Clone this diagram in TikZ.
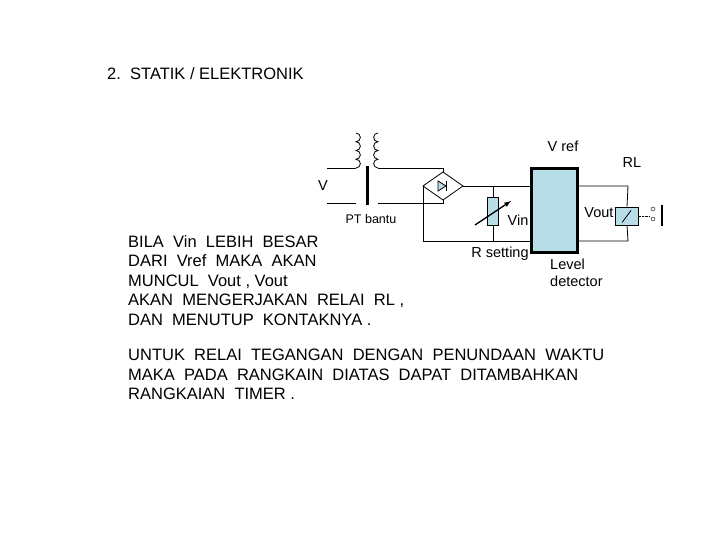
\documentclass[tikz,border=0pt]{standalone}
\usepackage{fontspec}
\setmainfont{Liberation Sans}
\usetikzlibrary{positioning}
\definecolor{boxblue}{RGB}{183,221,230}
\tikzset{
  wire/.style={line width=0.8pt},
  txt/.style={inner sep=0pt, anchor=west, font=\fontsize{16.5}{19.5}\selectfont},
  lbl/.style={inner sep=0pt, font=\fontsize{14.5}{16.5}\selectfont},
  comp/.style={draw, line width=0.8pt, fill=boxblue, inner sep=0pt}
}
\begin{document}
\begin{tikzpicture}[x=1pt,y=-1pt]
\useasboundingbox (0,0) rectangle (720,540);
% titel
\node[txt] (title) at (107,74) {2.\ \ STATIK / ELEKTRONIK};
% level detector
\node[comp, line width=3pt, minimum width=46, minimum height=83] (det) at (554,210.5) {};
\node[lbl] (vref) at (563,146) {V ref};
\node[lbl, align=left, anchor=north west] (level) at (550,259) {Level\\detector};
% transformer
\draw[wire] (327,168) -- (356,168);
\draw[wire] (327,203) -- (356,203);
\draw[wire] (356,168) \foreach \i in {0,1,2,3} {arc (90:-90:4.375)};
\draw[line width=3pt] (367,166) -- (367,205);
\draw[wire] (378,168) \foreach \i in {0,1,2,3} {arc (90:270:4.375)};
\node[lbl] (v) at (323,186) {V};
\node[lbl, font=\fontsize{12.5}{14}\selectfont] (pt) at (371,219) {PT bantu};
% bridge
\coordinate (bt) at (443,172);
\coordinate (bb) at (443,200);
\coordinate (bl) at (423,186);
\coordinate (br) at (463,186);
\draw[wire] (bt) -- (br) -- (bb) -- (bl) -- cycle;
\draw[wire] (378,168) -- (443,168) -- (bt);
\draw[wire] (378,203) -- (443,203) -- (bb);
\draw[wire, fill=boxblue] (438,181) -- (446,186) -- (438,191) -- cycle;
\draw[wire] (446,181) -- (446,191);
% wires to detector
\draw[wire] (br) -- (det.west |- br);
\draw[wire] (bl) -- (423,241) -- (det.west |- 0,241);
% R setting
\node[comp, minimum width=11, minimum height=28] (rset) at (493,211) {};
\draw[wire] (rset.north) -- (493,186);
\draw[wire] (rset.south) -- (493,241);
\draw[line width=1.3pt, -latex] (475,225) -- (511,201);
\node[lbl] (rsl) at (500,254) {R setting};
\node[lbl] (vin) at (518,220) {Vin};
% relay
\node[comp, minimum width=23, minimum height=18] (rl) at (627,216) {};
\draw[wire] (rl.south west) ++(7,-3) -- ++(9,-12);
\draw[wire] (det.east |- 0,186) -- (628,186) -- (rl.north);
\draw[wire] (det.east |- 0,241) -- (628,241) -- (rl.south);
\node[lbl] (rll) at (632,163) {RL};
\node[lbl] (vout) at (599,213) {Vout};
\draw[densely dotted] (rl.east) -- (650,216);
\draw (653,209) circle (2);
\draw (653,219) circle (2);
\draw[line width=2pt] (662,205) -- (662,226);
% keterangan
\node[txt, align=left, anchor=north west] (desc) at (128,235)
  {BILA\ \ Vin\ \ LEBIH\ \ BESAR\\DARI\ \ Vref\ \ MAKA\ \ AKAN\\MUNCUL\ \ Vout\ , Vout\\AKAN\ \ MENGERJAKAN\ \ RELAI\ \ RL ,\\DAN\ \ MENUTUP\ \ KONTAKNYA .};
\node[txt, align=left, anchor=north west] (timer) at (128,349)
  {UNTUK\ \ RELAI\ \ TEGANGAN\ \ DENGAN\ \ PENUNDAAN\ \ WAKTU\\MAKA\ \ PADA\ \ RANGKAIN\ \ DIATAS\ \ DAPAT\ \ DITAMBAHKAN\\RANGKAIAN\ \ TIMER .};
\end{tikzpicture}
\end{document}
